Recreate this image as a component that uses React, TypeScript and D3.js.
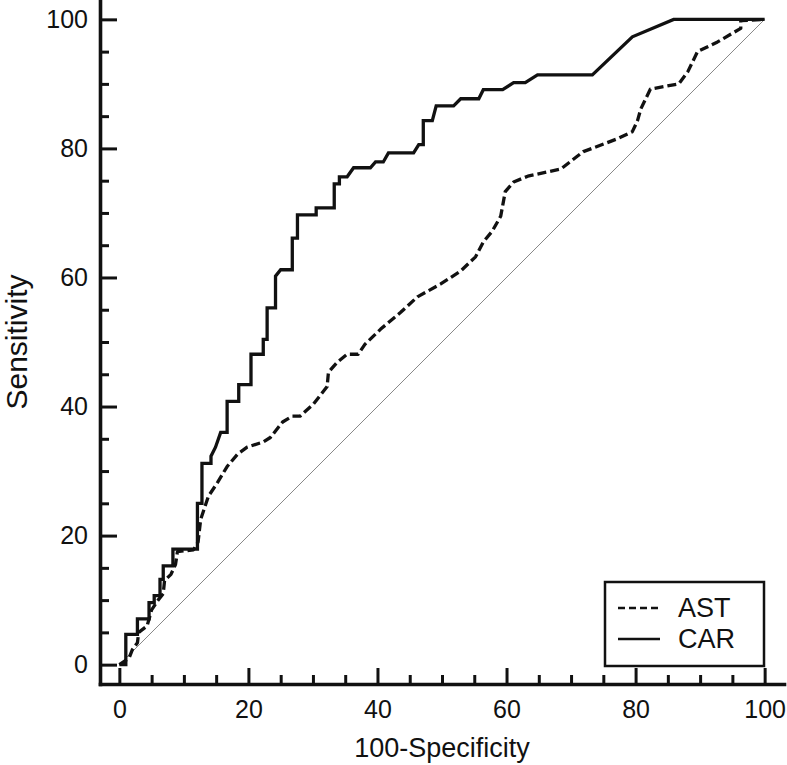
import React, { useEffect, useRef } from 'react';
import * as d3 from 'd3';

// CAR ROC curve (100-specificity, sensitivity)
const carFpr = [0, 1, 1, 2.8, 2.8, 4.6, 4.6, 5.4, 5.4, 6.3, 6.3, 6.8, 6.8, 8.3, 8.3, 12.1, 12.1, 12.8, 12.8, 14.2, 14.2, 14.9, 15.7, 16.7, 16.7, 18.5, 18.5, 20.4, 20.4, 22.3, 22.3, 22.9, 22.9, 24.2, 24.2, 25, 26.8, 26.8, 27.6, 27.6, 30.5, 30.5, 33.3, 33.3, 34.1, 34.1, 35.3, 36.3, 38.9, 39.7, 40.9, 41.7, 45.6, 46.4, 47.1, 47.1, 48.5, 49.1, 51.8, 52.9, 55.7, 56.4, 59.4, 61.1, 62.9, 64.8, 73.3, 79.5, 85.9, 100];
const carTpr = [0, 0, 4.7, 4.7, 7.1, 7.1, 9.6, 9.6, 10.7, 10.7, 13.2, 13.2, 15.3, 15.3, 17.9, 17.9, 25, 25, 31.2, 31.2, 32.3, 33.7, 36, 36, 40.8, 40.8, 43.4, 43.4, 48.1, 48.1, 50.4, 50.4, 55.3, 55.3, 60.2, 61.2, 61.2, 66.1, 66.1, 69.7, 69.7, 70.8, 70.8, 74.5, 74.5, 75.6, 75.6, 77, 77, 77.9, 77.9, 79.3, 79.3, 80.6, 80.6, 84.3, 84.3, 86.6, 86.6, 87.7, 87.7, 89.1, 89.1, 90.2, 90.2, 91.4, 91.4, 97.3, 100, 100];

// AST ROC curve
const astFpr = [0, 1.5, 2, 2.8, 3, 4.3, 5, 6, 6.8, 7, 8, 8.7, 9, 11.5, 12.2, 12.6, 13, 13.8, 15.2, 16.7, 18.3, 19.8, 22.3, 23.4, 25.3, 26.8, 28, 30.1, 32.2, 32.4, 33.8, 35.3, 37, 38.1, 40.5, 43.6, 46.2, 49.8, 52.9, 55.2, 56.4, 57.8, 59.1, 59.8, 61.1, 63.3, 68.4, 71.9, 77.2, 79.5, 80.3, 80.8, 82.3, 86.7, 88.1, 89.6, 92.7, 96.3, 96.3, 100];
const astTpr = [0, 1, 2.3, 3.4, 5, 6, 8.5, 10, 11, 13, 14, 15.5, 17.5, 17.8, 19, 22.5, 23.7, 26.1, 28.2, 30.7, 32.6, 33.7, 34.5, 35.2, 37.6, 38.5, 38.5, 40.4, 43.1, 45.3, 46.9, 48.1, 48.1, 49.7, 52, 54.6, 57, 59, 61, 63.2, 65.5, 67.2, 69.5, 73.3, 74.8, 75.7, 76.8, 79.5, 81.5, 82.6, 84.3, 86.1, 89.2, 90, 91.9, 95, 96.5, 98.6, 99.8, 100];

const diagonal = [0, 100];
const majorTicks = [0, 20, 40, 60, 80, 100];
const minorTicks = [5, 10, 15, 25, 30, 35, 45, 50, 55, 65, 70, 75, 85, 90, 95];
const seriesNames = ['AST', 'CAR'];
const xTitle = '100-Specificity';
const yTitle = 'Sensitivity';

const FONT = "'Liberation Sans', Arial, sans-serif";

const App = () => {
  const svgRef = useRef<SVGSVGElement>(null);

  useEffect(() => {
    const svg = d3.select(svgRef.current);
    svg.selectAll('*').remove();

    const x = d3.scaleLinear().domain([-3, 103]).range([100, 784]);
    const y = d3.scaleLinear().domain([-3, 103]).range([684, 0]);

    const line = d3.line<[number, number]>()
      .x(d => x(d[0]))
      .y(d => y(d[1]));

    // reference diagonal
    svg.append('path')
      .datum(diagonal.map(v => [v, v] as [number, number]))
      .attr('fill', 'none')
      .attr('stroke', '#888')
      .attr('stroke-width', 1)
      .attr('d', line);

    const ast = astFpr.map((v, i) => [v, astTpr[i]] as [number, number]);
    const car = carFpr.map((v, i) => [v, carTpr[i]] as [number, number]);

    svg.append('path')
      .datum(ast)
      .attr('fill', 'none')
      .attr('stroke', '#111')
      .attr('stroke-width', 3.3)
      .attr('stroke-dasharray', '9,4')
      .attr('stroke-linejoin', 'round')
      .attr('d', line);

    svg.append('path')
      .datum(car)
      .attr('fill', 'none')
      .attr('stroke', '#111')
      .attr('stroke-width', 3.3)
      .attr('d', line);

    // axes, ticks point inward
    const yAxis = d3.axisLeft(y).tickValues(majorTicks).tickSizeInner(-17).tickSizeOuter(0).tickPadding(12);
    const gy = svg.append('g').attr('transform', 'translate(100,0)').call(yAxis);

    const yMinor = d3.axisLeft(y).tickValues(minorTicks).tickSizeInner(-9).tickSizeOuter(0).tickFormat(() => '');
    const gyMinor = svg.append('g').attr('transform', 'translate(100,0)').call(yMinor);
    gyMinor.select('.domain').remove();

    const xAxis = d3.axisBottom(x).tickValues(majorTicks).tickSizeInner(-16).tickSizeOuter(0).tickPadding(16);
    const gx = svg.append('g').attr('transform', 'translate(0,684)').call(xAxis);

    const xMinor = d3.axisBottom(x).tickValues(minorTicks).tickSizeInner(-9).tickSizeOuter(0).tickFormat(() => '');
    const gxMinor = svg.append('g').attr('transform', 'translate(0,684)').call(xMinor);
    gxMinor.select('.domain').remove();

    [gy, gx].forEach(g => {
      g.attr('font-size', 25).attr('font-family', FONT);
      g.select('.domain').attr('stroke', '#111').attr('stroke-width', 3.6).attr('stroke-linecap', 'square');
      g.selectAll('text').attr('fill', '#111');
    });
    [gy, gx, gyMinor, gxMinor].forEach(g => {
      g.selectAll('.tick line').attr('stroke', '#111').attr('stroke-width', 3);
    });

    // titles
    svg.append('text')
      .attr('x', 442)
      .attr('y', 757)
      .attr('text-anchor', 'middle')
      .attr('font-family', FONT)
      .attr('font-size', 27)
      .attr('fill', '#111')
      .text(xTitle);

    svg.append('text')
      .attr('transform', 'translate(27,342) rotate(-90)')
      .attr('text-anchor', 'middle')
      .attr('font-family', FONT)
      .attr('font-size', 30)
      .attr('fill', '#111')
      .text(yTitle);

    // legend
    const legend = svg.append('g').attr('transform', 'translate(605,582)');
    legend.append('rect')
      .attr('width', 159)
      .attr('height', 84)
      .attr('fill', '#fff')
      .attr('stroke', '#111')
      .attr('stroke-width', 2.5);

    seriesNames.forEach((name, i) => {
      const ly = 26 + i * 31;
      legend.append('line')
        .attr('x1', 13)
        .attr('x2', 55)
        .attr('y1', ly)
        .attr('y2', ly)
        .attr('stroke', '#111')
        .attr('stroke-width', 2.5)
        .attr('stroke-dasharray', name === 'AST' ? '7,4' : null);
      legend.append('text')
        .attr('x', 73)
        .attr('y', ly + 9)
        .attr('font-family', FONT)
        .attr('font-size', 27)
        .attr('fill', '#111')
        .text(name);
    });
  }, []);

  return (
    <svg
      ref={svgRef}
      width={787}
      height={765}
      style={{ position: 'absolute', left: 0, top: 0, background: '#fff' }}
    />
  );
};

export default App;
